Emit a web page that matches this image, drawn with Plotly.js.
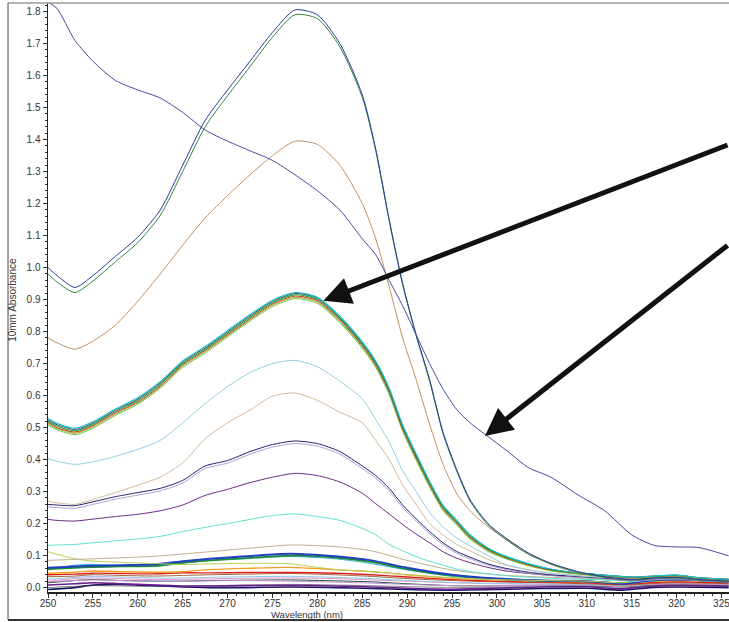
<!DOCTYPE html>
<html>
<head>
<meta charset="utf-8">
<script src="https://cdn.plot.ly/plotly-3.0.1.min.js"></script>
<style>html,body{margin:0;padding:0;background:#fff;}#chart{width:729px;height:622px;}</style>
</head>
<body>
<div id="chart"></div>
<script>
// Wavelength grid for the main spectra (nm)
const wl = [250,251,253,255,257.5,260,262.5,265,267.5,270,272.5,275,277.5,280,282.5,285,286.5,288,289.5,291,292.5,294,295.5,297,299,301,303.5,306,309,312,315,317.5,320,322.5,325.8];
// Wavelength grid for the low-absorbance spectra (nm)
const wlLow = [250,253,255,258,262,265,268,272,277,282,286,290,295,300,305,310,314,317,320,325.8];

// Main spectra (10mm absorbance)
const specDecline = [1.83,1.81,1.71,1.645,1.585,1.555,1.53,1.485,1.43,1.395,1.365,1.335,1.29,1.24,1.18,1.09,1.04,0.96,0.88,0.79,0.70,0.62,0.557,0.515,0.472,0.43,0.375,0.345,0.29,0.24,0.165,0.132,0.127,0.125,0.099];
const specTopBlue = [1.0,0.975,0.938,0.975,1.035,1.095,1.18,1.32,1.46,1.555,1.645,1.735,1.805,1.79,1.70,1.54,1.37,1.15,0.95,0.79,0.65,0.485,0.37,0.275,0.2,0.155,0.108,0.076,0.05,0.034,0.025,0.03,0.032,0.025,0.02];
const specTopGreen = [0.98,0.955,0.922,0.958,1.018,1.078,1.163,1.30,1.44,1.537,1.628,1.72,1.79,1.778,1.69,1.532,1.365,1.145,0.946,0.787,0.645,0.48,0.365,0.27,0.196,0.15,0.104,0.074,0.048,0.032,0.024,0.03,0.031,0.024,0.019];
const specBrown = [0.78,0.765,0.745,0.77,0.82,0.895,0.98,1.07,1.155,1.225,1.29,1.35,1.395,1.385,1.32,1.20,1.09,0.94,0.78,0.65,0.51,0.385,0.295,0.24,0.19,0.152,0.108,0.072,0.047,0.034,0.027,0.03,0.03,0.025,0.02];
const specClusterA = [0.52,0.505,0.49,0.51,0.55,0.585,0.635,0.70,0.745,0.795,0.845,0.89,0.915,0.90,0.84,0.76,0.70,0.615,0.50,0.41,0.325,0.25,0.205,0.16,0.12,0.095,0.073,0.056,0.045,0.038,0.032,0.035,0.038,0.03,0.025];
const specClusterB = [0.528,0.513,0.498,0.518,0.558,0.593,0.643,0.708,0.753,0.803,0.853,0.898,0.922,0.907,0.848,0.768,0.708,0.623,0.508,0.418,0.332,0.257,0.211,0.165,0.124,0.098,0.075,0.058,0.046,0.039,0.033,0.036,0.039,0.031,0.026];
const specClusterC = [0.516,0.5,0.486,0.506,0.546,0.58,0.63,0.696,0.741,0.79,0.84,0.886,0.911,0.896,0.836,0.756,0.696,0.611,0.496,0.406,0.321,0.247,0.202,0.157,0.118,0.093,0.071,0.055,0.044,0.037,0.031,0.034,0.037,0.029,0.024];
const specClusterD = [0.512,0.497,0.482,0.502,0.542,0.577,0.627,0.692,0.737,0.787,0.837,0.882,0.907,0.892,0.832,0.752,0.692,0.607,0.492,0.402,0.318,0.244,0.199,0.155,0.116,0.092,0.07,0.054,0.043,0.036,0.03,0.033,0.036,0.028,0.023];
const specClusterE = [0.508,0.493,0.478,0.498,0.538,0.573,0.623,0.688,0.733,0.783,0.833,0.878,0.903,0.888,0.828,0.748,0.688,0.603,0.488,0.398,0.314,0.24,0.196,0.152,0.113,0.09,0.068,0.052,0.042,0.035,0.029,0.032,0.035,0.027,0.022];
const specClusterF = [0.524,0.509,0.494,0.514,0.554,0.589,0.639,0.704,0.749,0.799,0.849,0.894,0.919,0.904,0.844,0.764,0.704,0.619,0.504,0.414,0.329,0.254,0.208,0.163,0.122,0.097,0.074,0.057,0.046,0.039,0.033,0.036,0.039,0.031,0.026];
const specLightBlue = [0.403,0.395,0.385,0.393,0.41,0.432,0.46,0.515,0.575,0.628,0.672,0.70,0.71,0.69,0.645,0.59,0.525,0.455,0.365,0.30,0.235,0.19,0.155,0.13,0.10,0.072,0.056,0.045,0.037,0.032,0.028,0.03,0.032,0.027,0.022];
const specTan = [0.27,0.265,0.26,0.275,0.297,0.32,0.345,0.39,0.465,0.515,0.555,0.598,0.608,0.585,0.548,0.515,0.46,0.40,0.32,0.26,0.20,0.165,0.135,0.115,0.088,0.07,0.055,0.045,0.037,0.032,0.028,0.03,0.032,0.027,0.022];
const specNavy = [0.26,0.258,0.256,0.268,0.284,0.297,0.31,0.335,0.38,0.397,0.425,0.447,0.458,0.45,0.425,0.38,0.35,0.31,0.258,0.215,0.175,0.14,0.113,0.095,0.074,0.06,0.048,0.04,0.035,0.03,0.025,0.028,0.03,0.025,0.02];
const specLilac = [0.252,0.25,0.248,0.26,0.276,0.289,0.302,0.327,0.372,0.389,0.417,0.439,0.45,0.442,0.417,0.372,0.342,0.302,0.25,0.208,0.168,0.134,0.108,0.09,0.07,0.057,0.045,0.038,0.033,0.028,0.023,0.026,0.028,0.023,0.018];
const specPurple = [0.213,0.21,0.208,0.214,0.222,0.229,0.24,0.258,0.288,0.307,0.328,0.345,0.357,0.35,0.33,0.295,0.262,0.23,0.197,0.167,0.14,0.112,0.092,0.078,0.063,0.052,0.044,0.038,0.033,0.028,0.022,0.026,0.028,0.023,0.018];
const specAqua = [0.132,0.133,0.135,0.14,0.146,0.152,0.16,0.175,0.188,0.20,0.213,0.225,0.23,0.222,0.21,0.185,0.165,0.135,0.115,0.097,0.082,0.07,0.058,0.05,0.043,0.037,0.032,0.029,0.026,0.024,0.02,0.024,0.027,0.022,0.018];

// Low-absorbance spectra
const lowTanGray = [0.085,0.088,0.09,0.093,0.098,0.105,0.112,0.122,0.133,0.128,0.115,0.085,0.055,0.04,0.033,0.028,0.022,0.03,0.033,0.026];
const lowYellowGreen = [0.112,0.09,0.083,0.079,0.075,0.072,0.074,0.076,0.074,0.056,0.05,0.04,0.03,0.025,0.022,0.02,0.015,0.025,0.028,0.022];
const lowBlue = [0.062,0.066,0.068,0.07,0.073,0.082,0.09,0.098,0.106,0.098,0.085,0.062,0.04,0.028,0.022,0.02,0.012,0.022,0.025,0.018];
const lowGreen = [0.058,0.062,0.064,0.066,0.068,0.078,0.085,0.092,0.1,0.094,0.08,0.058,0.038,0.027,0.022,0.02,0.014,0.028,0.032,0.022];
const lowCyan = [0.055,0.07,0.072,0.068,0.066,0.076,0.084,0.09,0.097,0.09,0.075,0.055,0.035,0.025,0.02,0.018,0.012,0.02,0.024,0.018];
const lowOrange = [0.045,0.048,0.052,0.05,0.048,0.05,0.056,0.06,0.063,0.056,0.05,0.04,0.03,0.024,0.02,0.018,0.015,0.02,0.022,0.018];
const lowRed = [0.04,0.042,0.045,0.044,0.043,0.046,0.046,0.047,0.047,0.045,0.04,0.033,0.025,0.02,0.017,0.015,0.01,0.015,0.018,0.015];
const lowBrown = [0.034,0.036,0.04,0.038,0.036,0.038,0.04,0.042,0.044,0.04,0.035,0.028,0.022,0.018,0.015,0.012,0.008,0.012,0.015,0.012];
const lowPink = [0.02,0.028,0.03,0.028,0.025,0.026,0.027,0.029,0.03,0.028,0.024,0.02,0.015,0.012,0.01,0.008,0.004,0.01,0.012,0.01];
const lowSky = [0.026,0.032,0.035,0.033,0.03,0.03,0.032,0.034,0.035,0.032,0.028,0.022,0.016,0.013,0.011,0.01,0.006,0.012,0.015,0.012];
const lowDarkGreen = [0.015,0.022,0.025,0.022,0.02,0.02,0.022,0.023,0.024,0.021,0.018,0.012,0.006,0.005,0.006,0.006,0.002,0.008,0.01,0.008];
const lowViolet = [0.008,0.012,0.015,0.012,0.008,0.005,0.005,0.006,0.007,0.005,0.002,-0.002,-0.005,-0.002,0.002,0.003,-0.004,0.004,0.006,0.004];
const lowNavy = [-0.006,0.0,0.008,0.01,0.006,0.002,0.0,0.0,0.002,0.0,-0.003,-0.006,-0.008,-0.006,-0.003,-0.002,-0.008,0.0,0.002,0.0];
const lowGray = [0.0,0.004,0.006,0.005,0.003,0.004,0.006,0.008,0.01,0.008,0.006,0.003,0.0,0.0,0.002,0.003,-0.002,0.005,0.008,0.005];
const lowLilac = [0.018,0.022,0.024,0.022,0.02,0.02,0.021,0.022,0.02,0.017,0.014,0.01,0.006,0.006,0.007,0.008,0.004,0.01,0.012,0.01];

// Arrow annotations: [head wavelength, head absorbance, tail wavelength, tail absorbance]
const arrowUpper = [280.66, 0.896, 325.84, 1.385];
const arrowLower = [298.66, 0.474, 325.84, 1.073];

const tickVals = ['250','255','260','265','270','275','280','285','290','295','300','305','310','315','320','325'];

function tr(x, y, color, width) {
  return {x: x, y: y, type: 'scatter', mode: 'lines', hoverinfo: 'skip',
          line: {color: color, width: width || 1, shape: 'spline', smoothing: 0.7}};
}

const traces = [
  tr(wlLow, lowGray, '#8a8a8a'),
  tr(wlLow, lowNavy, '#1a1a60', 1.6),
  tr(wlLow, lowViolet, '#6a2090', 1.6),
  tr(wlLow, lowDarkGreen, '#205030'),
  tr(wlLow, lowLilac, '#c090d8'),
  tr(wlLow, lowPink, '#e090c8'),
  tr(wlLow, lowSky, '#90c8e8'),
  tr(wlLow, lowBrown, '#9a6a40'),
  tr(wlLow, lowRed, '#e02020', 1.4),
  tr(wlLow, lowOrange, '#f0a020', 1.4),
  tr(wlLow, lowCyan, '#30b8d0'),
  tr(wlLow, lowGreen, '#208a30', 1.8),
  tr(wlLow, lowBlue, '#2040c0', 2),
  tr(wlLow, lowYellowGreen, '#b8d050'),
  tr(wlLow, lowTanGray, '#c0b090'),
  tr(wl, specAqua, '#60e0d0'),
  tr(wl, specPurple, '#6a2a80'),
  tr(wl, specLilac, '#b0a0d0'),
  tr(wl, specNavy, '#202070'),
  tr(wl, specTan, '#d4b894'),
  tr(wl, specLightBlue, '#90d0e0'),
  tr(wl, specClusterE, '#60d040'),
  tr(wl, specClusterD, '#c0a040'),
  tr(wl, specClusterC, '#c03020'),
  tr(wl, specClusterA, '#30b030', 1.2),
  tr(wl, specClusterF, '#404080'),
  tr(wl, specClusterB, '#20c0c0', 1.2),
  tr(wl, specBrown, '#c09060'),
  tr(wl, specTopGreen, '#2a8a3a'),
  tr(wl, specTopBlue, '#2a3a9a'),
  tr(wl, specDecline, '#4848a0')
];

function arrow(a) {
  return {x: a[0], y: a[1], ax: a[2], ay: a[3], xref: 'x', yref: 'y', axref: 'x', ayref: 'y',
          text: '', showarrow: true, arrowhead: 2, arrowsize: 1.1, arrowwidth: 5,
          arrowcolor: '#111111', standoff: 0, startstandoff: 0};
}

const fontFam = 'Liberation Sans Narrow, Liberation Sans, Arial, sans-serif';
const tickFont = {family: fontFam, size: 10, color: '#333'};

const layout = {
  width: 729, height: 622,
  margin: {l: 48, r: 0, t: 3, b: 30, pad: 0},
  paper_bgcolor: '#ffffff', plot_bgcolor: '#ffffff',
  showlegend: false,
  xaxis: {
    range: [250, 325.84], tickmode: 'array',
    tickvals: tickVals.map(Number), ticktext: tickVals,
    ticks: 'outside', ticklen: 4, tickwidth: 1, tickcolor: '#333',
    minor: {dtick: 1, tick0: 250, ticks: 'outside', ticklen: 2, tickcolor: '#333'},
    showline: true, linecolor: '#222', linewidth: 1.5,
    showgrid: false, zeroline: false, tickfont: tickFont, automargin: false,
    ticklabeloverflow: 'allow', ticklabelstandoff: -3
  },
  yaxis: {
    range: [-0.0138, 1.8268], dtick: 0.1, tick0: 0, tickformat: '.1f',
    ticks: 'outside', ticklen: 4, tickwidth: 1, tickcolor: '#333',
    minor: {dtick: 0.02, ticks: 'outside', ticklen: 2, tickcolor: '#333'},
    showline: true, linecolor: '#222', linewidth: 1.5,
    showgrid: false, zeroline: false, tickfont: tickFont, automargin: false,
    ticklabeloverflow: 'allow'
  },
  annotations: [
    arrow(arrowUpper), arrow(arrowLower),
    {text: '10mm Absorbance', xref: 'paper', yref: 'paper', x: -0.0514, y: 0.496,
     xanchor: 'center', yanchor: 'middle', textangle: -90, showarrow: false,
     font: {family: fontFam, size: 10, color: '#333'}},
    {text: 'Wavelength (nm)', xref: 'paper', yref: 'paper', x: 0.38, y: -0.0385,
     xanchor: 'center', yanchor: 'middle', showarrow: false,
     font: {family: fontFam, size: 9.5, color: '#333'}}
  ],
  shapes: [
    {type: 'line', xref: 'paper', yref: 'paper', x0: -0.0587, x1: 1, y0: 1, y1: 1, line: {color: '#999', width: 1.5}},
    {type: 'line', xref: 'paper', yref: 'paper', x0: -0.0587, x1: -0.0587, y0: 1, y1: -0.0475, line: {color: '#666', width: 1.2}},
    {type: 'line', xref: 'paper', yref: 'paper', x0: -0.0587, x1: 1, y0: -0.0475, y1: -0.0475, line: {color: '#333', width: 2}}
  ]
};

Plotly.newPlot('chart', traces, layout, {staticPlot: true, displayModeBar: false});
</script>
</body>
</html>
